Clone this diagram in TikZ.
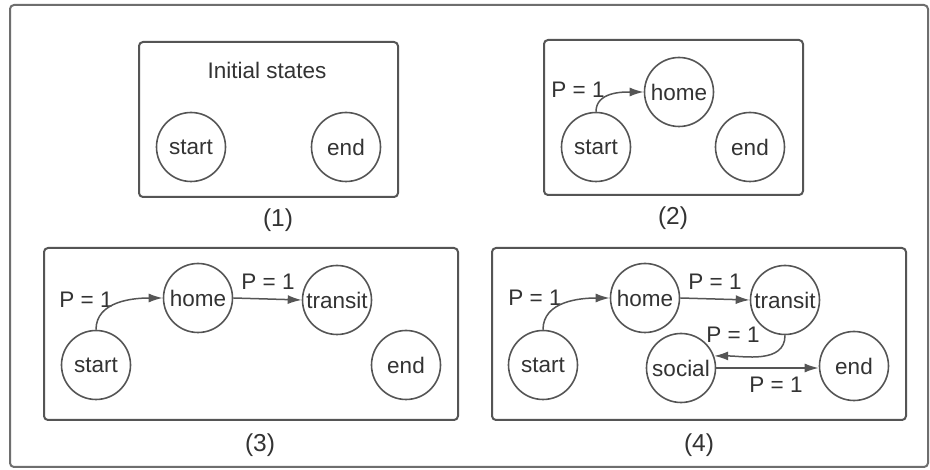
\documentclass[tikz,border=0pt]{standalone}
\usepackage{fontspec}
\setmainfont{Liberation Sans}
\usetikzlibrary{arrows.meta}
\definecolor{linecol}{HTML}{555555}
\definecolor{textcol}{HTML}{333333}
\tikzset{
  state/.style={circle, draw=linecol, line width=1.6pt, minimum size=69pt, inner sep=0pt, text=textcol, font=\fontsize{22.5}{25}\selectfont},
  panel/.style={draw=linecol, line width=2pt, rounded corners=4pt},
  plab/.style={text=textcol, font=\fontsize{22.5}{25}\selectfont, inner sep=0pt},
  numlab/.style={text=textcol, font=\fontsize{24.5}{27}\selectfont, inner sep=0pt},
  conn/.style={draw=linecol, line width=1.5pt, -{Latex[length=14pt,width=9pt]}}
}
\begin{document}
\begin{tikzpicture}[x=1pt,y=1pt]
\useasboundingbox (0,0) rectangle (930,-470);
\fill[white] (0,0) rectangle (930,-470);
% outer frame
\draw[draw=linecol!85, line width=2pt, rounded corners=4pt] (10,-5) rectangle (928,-467);

% panel 1
\draw[panel] (139,-42) rectangle (398,-197);
\node[plab] (title1) at (267,-70) {Initial states};
\node[state] (s1) at (191,-147) {start};
\node[state] (e1) at (346,-147) {end};
\node[numlab] (n1) at (278,-220) {(1)};

% panel 2
\draw[panel] (544,-40) rectangle (803,-195);
\node[state] (s2) at (596,-147) {start};
\node[state] (h2) at (679,-92) {home};
\node[state] (e2) at (750,-147) {end};
\node[plab] (p2) at (578,-90) {P = 1};
\node[numlab] (n2) at (673,-218) {(2)};
\draw[conn] (s2.north) to[out=90,in=180] (h2.west);

% panel 3
\draw[panel] (44,-248) rectangle (458,-420);
\node[state] (s3) at (96,-365) {start};
\node[state] (h3) at (198,-298) {home};
\node[state] (t3) at (337,-300) {transit};
\node[state] (e3) at (406,-365) {end};
\node[plab] (p3a) at (86,-300) {P = 1};
\node[plab] (p3b) at (268,-282) {P = 1};
\node[numlab] (n3) at (260,-445) {(3)};
\draw[conn] (s3.north) to[out=90,in=180] (h3.west);
\draw[conn] (h3.east) -- (t3.west);

% panel 4
\draw[panel] (492,-248) rectangle (906,-420);
\node[state] (s4) at (543,-365) {start};
\node[state] (h4) at (645,-298) {home};
\node[state] (t4) at (785,-300) {transit};
\node[state] (so4) at (681,-368) {social};
\node[state] (e4) at (854,-366) {end};
\node[plab] (p4a) at (535,-298) {P = 1};
\node[plab] (p4b) at (715,-282) {P = 1};
\node[plab] (p4c) at (733,-335) {P = 1};
\node[plab] (p4d) at (776,-385) {P = 1};
\node[numlab] (n4) at (699,-445) {(4)};
\draw[conn] (s4.north) to[out=90,in=180] (h4.west);
\draw[conn] (h4.east) -- (t4.west);
\draw[conn] (t4.south) to[out=-90,in=0] (so4.20);
\draw[conn] (so4.east) -- (so4.east -| e4.west);
\end{tikzpicture}
\end{document}
